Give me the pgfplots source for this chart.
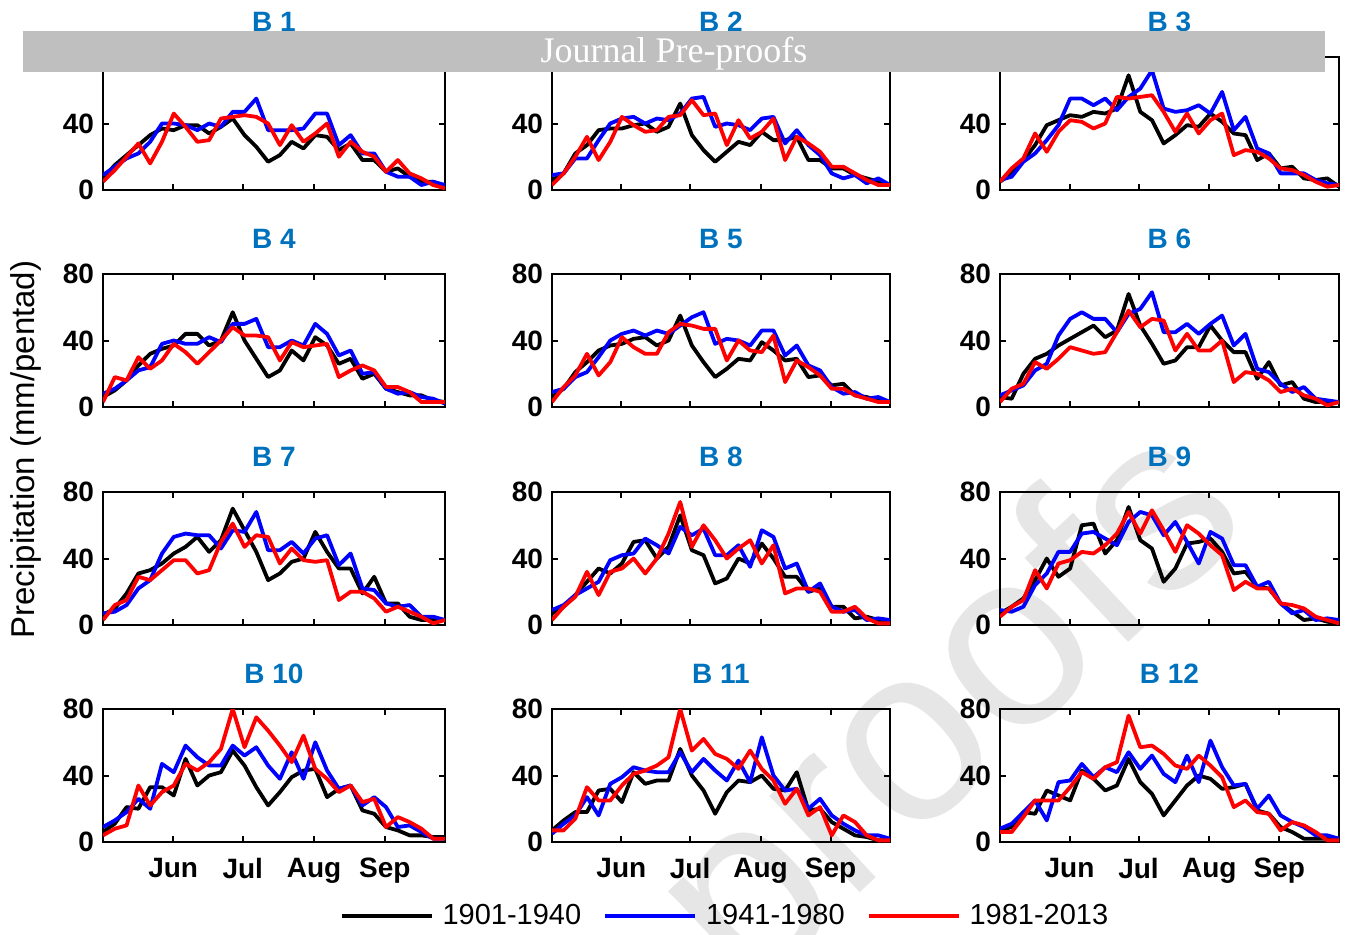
\documentclass[border=0pt]{standalone}
\usepackage{pgfplots}
\pgfplotsset{compat=1.18}
\usepackage{fontspec}
\setmainfont{Liberation Sans}
\newfontfamily\seriffont{Liberation Serif}
\definecolor{ttl}{RGB}{0,114,189}
\definecolor{ban}{RGB}{191,191,191}
\definecolor{wm}{RGB}{230,230,230}
\pgfplotsset{
 panel/.style={
  scale only axis, width=#1, height=66.5pt,
  xmin=0, xmax=29, ymin=0, ymax=80,
  xtick={5.95,11.85,17.9,23.9}, xticklabels={},
  ytick={0,40,80},
  tick align=inside, major tick length=3pt,
  axis line style={line width=1pt}, every tick/.style={black,line width=1pt},
  tick label style={font=\fontsize{14}{16}\selectfont\bfseries, /pgf/number format/assume math mode=true},
  yticklabel style={xshift=-1pt},
  title style={at={(0.5,1)},anchor=base,yshift=7pt,font=\fontsize{14}{16}\selectfont\bfseries, text=ttl},
  every axis plot/.append style={line width=1.9pt, mark=none, line join=round},
  anchor=south west,
 },
 months/.style={xticklabels={Jun,Jul,Aug,Sep}, xticklabel style={yshift=-4.5pt}},
}
\newcommand{\ser}[2]{\addplot[#1] table[row sep=\\,header=false,x expr=\coordindex,y index=0]{#2};}
\begin{document}
\begin{tikzpicture}
\useasboundingbox (0,0) rectangle (674.5pt,-467pt);
% watermark
\node[rotate=43, anchor=base east, text=wm, font=\fontsize{125}{130}\selectfont] at (630pt,-260pt) {Journal Pre-proofs};
% y label
\node[rotate=90, font=\fontsize{16.5}{18}\selectfont] at (13pt,-224.75pt) {Precipitation (mm/pentad)};

% ---------- Row 1 ----------
\begin{axis}[panel=171pt, at={(51.5pt,-95pt)}, title={B 1}]
\ser{black}{7\\15\\21\\27\\33\\37\\36\\39\\39\\34\\38\\43\\33\\26\\17\\21\\29\\25\\33\\32\\24\\28\\18\\18\\11\\13\\8\\5\\5\\2\\}
\ser{blue}{9\\14\\19\\22\\29\\40\\40\\39\\36\\40\\38\\47\\47\\55\\36\\36\\36\\37\\46\\46\\27\\33\\22\\22\\11\\8\\8\\3\\5\\3\\}
\ser{red}{5\\12\\20\\28\\16\\29\\46\\38\\29\\30\\43\\44\\45\\44\\40\\27\\39\\29\\34\\40\\20\\29\\23\\20\\11\\18\\10\\7\\3\\1\\}
\end{axis}
\begin{axis}[panel=169pt, at={(276pt,-95pt)}, title={B 2}]
\ser{black}{6\\10\\22\\27\\36\\37\\37\\39\\40\\35\\38\\52\\33\\24\\17\\23\\29\\27\\35\\30\\30\\32\\18\\18\\13\\13\\9\\7\\5\\3\\}
\ser{blue}{9\\10\\19\\19\\30\\40\\43\\44\\40\\43\\42\\46\\55\\56\\38\\40\\39\\36\\43\\44\\28\\36\\27\\21\\10\\7\\9\\4\\7\\3\\}
\ser{red}{3\\10\\20\\32\\18\\29\\44\\39\\35\\36\\44\\45\\54\\45\\46\\27\\42\\31\\35\\43\\18\\32\\28\\23\\14\\14\\10\\6\\3\\3\\}
\end{axis}
\begin{axis}[panel=169.5pt, at={(500pt,-95pt)}, title={B 3}]
\ser{black}{5\\10\\18\\27\\39\\42\\45\\44\\47\\46\\49\\69\\47\\42\\28\\33\\39\\38\\46\\41\\34\\33\\18\\22\\13\\14\\7\\6\\7\\2\\}
\ser{blue}{6\\8\\17\\22\\30\\39\\55\\55\\51\\55\\48\\56\\61\\72\\49\\47\\48\\51\\46\\59\\36\\44\\25\\22\\10\\10\\10\\6\\4\\3\\}
\ser{red}{5\\13\\19\\34\\23\\35\\42\\41\\37\\40\\56\\55\\56\\57\\47\\35\\46\\34\\42\\46\\21\\24\\23\\19\\13\\12\\9\\5\\2\\3\\}
\end{axis}

% ---------- Row 2 ----------
\begin{axis}[panel=171pt, at={(51.5pt,-203.5pt)}, title={B 4}]
\ser{black}{6\\10\\16\\25\\32\\35\\37\\44\\44\\37\\40\\57\\40\\29\\18\\22\\34\\28\\42\\37\\26\\29\\17\\20\\11\\9\\7\\7\\4\\3\\}
\ser{blue}{8\\11\\16\\22\\24\\38\\40\\38\\38\\42\\39\\50\\50\\53\\36\\36\\40\\37\\50\\44\\31\\34\\20\\21\\11\\8\\9\\6\\5\\2\\}
\ser{red}{3\\18\\16\\30\\23\\28\\38\\33\\26\\33\\40\\48\\43\\43\\42\\28\\39\\36\\37\\38\\18\\22\\25\\22\\12\\12\\9\\3\\3\\3\\}
\end{axis}
\begin{axis}[panel=169pt, at={(276pt,-203.5pt)}, title={B 5}]
\ser{black}{6\\11\\21\\27\\34\\37\\38\\41\\42\\37\\40\\55\\37\\27\\18\\23\\29\\28\\39\\34\\28\\29\\18\\19\\13\\14\\7\\6\\4\\3\\}
\ser{blue}{9\\11\\18\\21\\30\\40\\44\\46\\43\\46\\44\\49\\54\\57\\38\\41\\40\\37\\46\\46\\31\\37\\25\\22\\12\\8\\9\\5\\6\\3\\}
\ser{red}{3\\12\\19\\32\\19\\27\\42\\36\\32\\32\\45\\50\\49\\47\\47\\28\\40\\34\\33\\43\\15\\28\\24\\19\\11\\11\\7\\5\\3\\3\\}
\end{axis}
\begin{axis}[panel=169.5pt, at={(500pt,-203.5pt)}, title={B 6}]
\ser{black}{6\\5\\20\\29\\32\\37\\41\\45\\49\\42\\46\\68\\49\\38\\26\\28\\36\\36\\49\\40\\33\\33\\17\\27\\13\\15\\5\\3\\3\\3\\}
\ser{blue}{7\\10\\13\\22\\26\\43\\53\\57\\53\\53\\45\\56\\59\\69\\45\\45\\50\\44\\50\\55\\37\\44\\23\\21\\14\\9\\12\\5\\4\\3\\}
\ser{red}{3\\11\\14\\27\\23\\29\\36\\34\\32\\33\\45\\58\\48\\53\\52\\34\\44\\34\\34\\40\\15\\21\\20\\16\\9\\11\\7\\5\\1\\3\\}
\end{axis}

% ---------- Row 3 ----------
\begin{axis}[panel=171pt, at={(51.5pt,-312.5pt)}, title={B 7}]
\ser{black}{6\\10\\19\\31\\33\\37\\43\\47\\53\\44\\51\\70\\57\\44\\27\\31\\38\\40\\56\\44\\34\\34\\19\\29\\13\\13\\5\\3\\3\\3\\}
\ser{blue}{7\\8\\12\\22\\27\\43\\53\\55\\54\\54\\46\\57\\56\\68\\45\\45\\50\\43\\52\\54\\36\\43\\22\\21\\13\\11\\12\\5\\5\\3\\}
\ser{red}{3\\12\\15\\29\\27\\33\\39\\39\\31\\33\\50\\61\\47\\54\\53\\37\\46\\39\\38\\39\\15\\20\\20\\16\\8\\11\\8\\5\\1\\3\\}
\end{axis}
\begin{axis}[panel=169pt, at={(276pt,-312.5pt)}, title={B 8}]
\ser{black}{7\\11\\18\\26\\34\\31\\37\\50\\51\\40\\47\\66\\45\\42\\25\\28\\40\\37\\49\\40\\29\\29\\20\\22\\11\\11\\4\\5\\3\\3\\}
\ser{blue}{9\\12\\18\\22\\26\\39\\42\\43\\52\\48\\43\\59\\54\\58\\42\\42\\48\\35\\57\\53\\34\\37\\20\\25\\11\\8\\9\\3\\4\\3\\}
\ser{red}{3\\11\\17\\32\\18\\32\\34\\40\\31\\40\\55\\74\\47\\60\\51\\40\\46\\51\\37\\48\\19\\22\\22\\20\\8\\8\\11\\4\\1\\1\\}
\end{axis}
\begin{axis}[panel=169.5pt, at={(500pt,-312.5pt)}, title={B 9}]
\ser{black}{7\\11\\16\\27\\40\\29\\34\\60\\61\\43\\51\\71\\51\\46\\26\\34\\49\\50\\52\\44\\31\\32\\23\\22\\13\\8\\3\\4\\2\\1\\}
\ser{blue}{9\\8\\11\\24\\31\\44\\44\\55\\56\\52\\48\\62\\68\\66\\54\\62\\50\\37\\56\\52\\36\\36\\23\\26\\13\\7\\9\\3\\4\\3\\}
\ser{red}{5\\11\\15\\33\\22\\37\\39\\44\\43\\48\\55\\68\\55\\69\\57\\44\\60\\55\\48\\42\\21\\26\\22\\22\\13\\12\\10\\5\\3\\1\\}
\end{axis}

% ---------- Row 4 ----------
\begin{axis}[panel=171pt, at={(51.5pt,-421pt)}, title={B 10}, months]
\ser{black}{6\\11\\21\\20\\33\\33\\28\\50\\34\\40\\42\\55\\46\\33\\22\\30\\39\\43\\44\\27\\32\\34\\19\\17\\9\\7\\4\\4\\3\\3\\}
\ser{blue}{9\\13\\18\\26\\20\\47\\42\\58\\51\\46\\46\\58\\52\\57\\46\\38\\54\\38\\60\\43\\32\\34\\22\\27\\21\\9\\10\\6\\2\\2\\}
\ser{red}{4\\8\\10\\34\\22\\30\\34\\47\\43\\48\\56\\80\\57\\75\\67\\58\\48\\64\\44\\38\\30\\34\\24\\26\\9\\15\\12\\8\\2\\2\\}
\end{axis}
\begin{axis}[panel=169pt, at={(276pt,-421pt)}, title={B 11}, months,
  legend columns=3,
  legend style={at={(0.5,0)}, anchor=center, yshift=-37pt, xshift=2.5pt, draw=none, fill=none,
    font=\fontsize{14.5}{16}\selectfont, /tikz/every even column/.append style={column sep=9pt},
    /tikz/every odd column/.append style={column sep=2.5pt}},
  legend image code/.code={\draw[#1] (0pt,0pt) -- (45pt,0pt);}]
\ser{black}{7\\13\\18\\18\\31\\32\\24\\42\\35\\37\\37\\56\\40\\31\\17\\30\\37\\36\\40\\32\\31\\42\\19\\20\\12\\8\\4\\3\\1\\1\\}
\addlegendentry{1901-1940}
\ser{blue}{5\\11\\16\\27\\16\\35\\39\\45\\43\\42\\42\\54\\42\\50\\43\\37\\49\\36\\63\\40\\31\\32\\20\\26\\16\\11\\7\\4\\4\\2\\}
\addlegendentry{1941-1980}
\ser{red}{7\\7\\14\\33\\25\\25\\34\\41\\43\\46\\51\\80\\55\\62\\53\\50\\44\\55\\44\\37\\23\\32\\16\\21\\4\\16\\12\\4\\1\\1\\}
\addlegendentry{1981-2013}
\end{axis}
\begin{axis}[panel=169.5pt, at={(500pt,-421pt)}, title={B 12}, months]
\ser{black}{7\\9\\18\\17\\31\\28\\25\\43\\38\\31\\34\\50\\36\\29\\16\\25\\34\\40\\38\\32\\33\\35\\19\\17\\9\\6\\2\\2\\2\\2\\}
\ser{blue}{8\\11\\18\\25\\13\\36\\37\\47\\39\\45\\42\\54\\44\\52\\41\\36\\52\\36\\61\\45\\34\\35\\20\\28\\16\\12\\9\\4\\4\\2\\}
\ser{red}{6\\6\\15\\25\\25\\25\\33\\42\\38\\45\\48\\76\\57\\58\\53\\46\\44\\52\\46\\39\\21\\25\\18\\17\\7\\12\\10\\6\\1\\1\\}
\end{axis}

% banner
\fill[ban] (11.5pt,-15.5pt) rectangle (662.5pt,-36pt);
\node[text=white, font=\seriffont\fontsize{18}{20}\selectfont] at (337pt,-27pt) {Journal Pre-proofs};
\end{tikzpicture}
\end{document}
